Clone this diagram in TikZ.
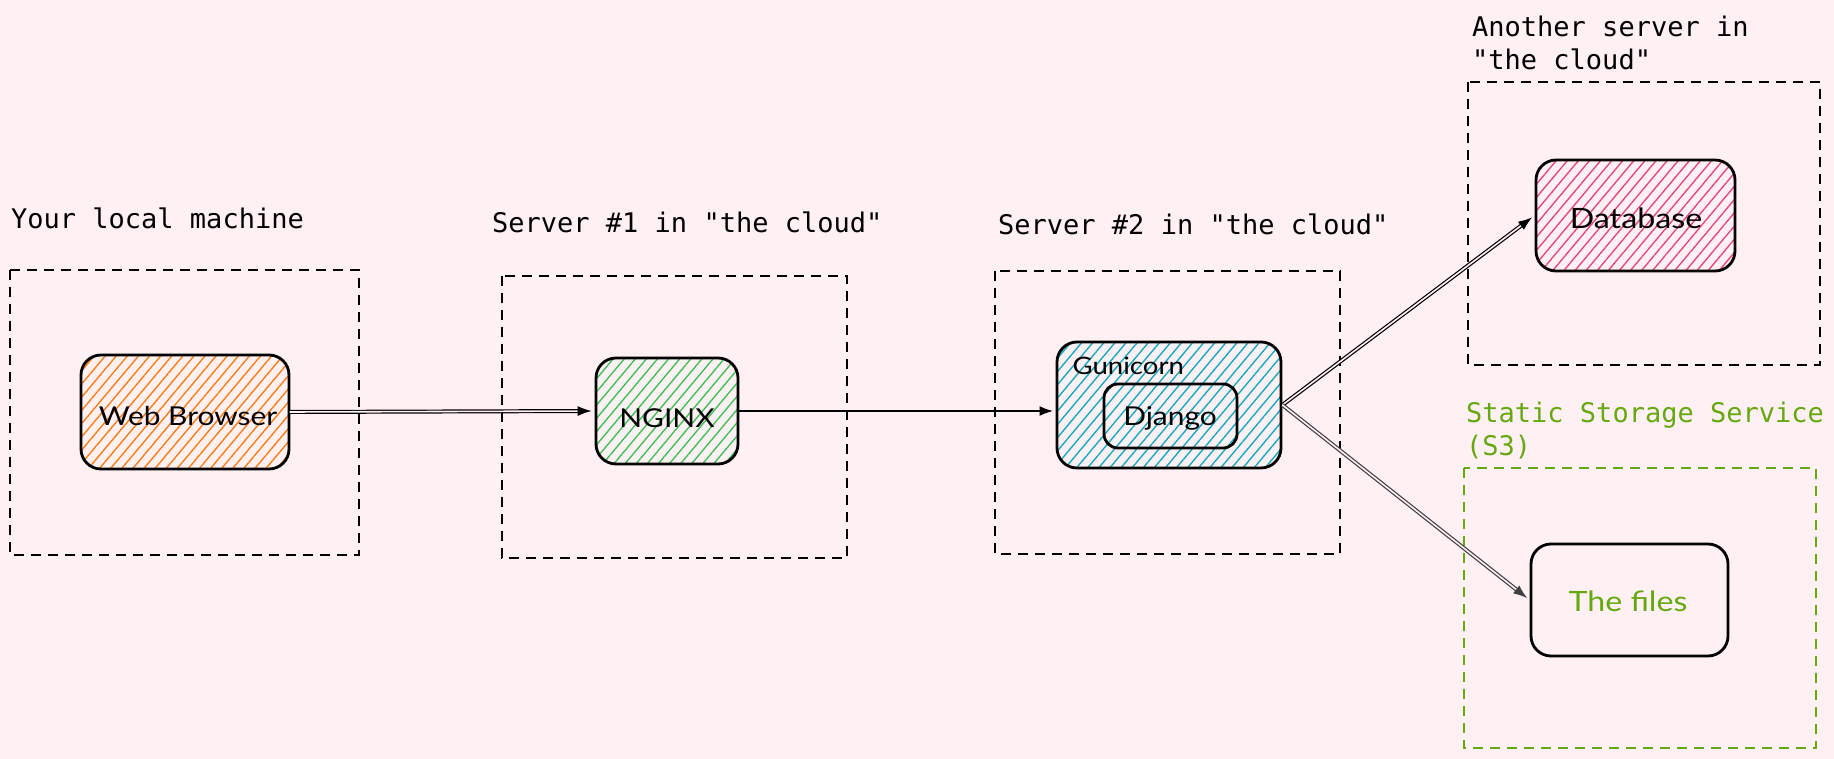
\documentclass[tikz,border=0pt]{standalone}
\usepackage{fontspec}
\newfontfamily\monofont{DejaVu Sans Mono}
\newfontfamily\handfont[FakeStretch=1.15]{Lato}
\usetikzlibrary{patterns.meta,arrows.meta}
\definecolor{bg}{RGB}{255,240,244}
\definecolor{xorange}{RGB}{253,126,20}
\definecolor{xgreen}{RGB}{64,192,87}
\definecolor{xblue}{RGB}{21,170,191}
\definecolor{xpink}{RGB}{230,73,128}
\definecolor{xolive}{RGB}{102,168,15}
\tikzset{
  container/.style={draw=black, line width=2.4pt, dash pattern=on 10pt off 7pt},
  grouplabel/.style={anchor=base west, inner sep=0pt, font=\monofont\fontsize{27}{32}\selectfont},
  comp/.style={draw=black, line width=2.8pt, rounded corners=20pt, inner sep=0pt},
  hatch/.style={pattern={Lines[angle=50,distance=8.5pt,line width=1.4pt]}, pattern color=#1},
  handtext/.style={font=\handfont\fontsize{26}{30}\selectfont},
  conn/.style={-{Latex[length=14pt,width=10pt]}, line width=2.6pt, shorten >=2pt},
  dconn/.style={-{Latex[length=14pt,width=10pt]}, double=bg, double distance=1.6pt, line width=1.2pt, shorten >=3pt},
}
\begin{document}
\begin{tikzpicture}[x=1pt,y=-1pt]
\useasboundingbox (0,0) rectangle (1834,759);
\fill[bg] (0,0) rectangle (1834,759);

% containers
\draw[container] (10,270) rectangle (359,555);
\draw[container] (502,276) rectangle (847,558);
\draw[container] (995,271) rectangle (1340,554);
\draw[container] (1468,82) rectangle (1820,365);
\draw[container, draw=xolive] (1464,468) rectangle (1816,748);

% group labels
\node[grouplabel] (l1) at (11,229) {Your local machine};
\node[grouplabel] (l2) at (492,233) {Server \#1 in "the cloud"};
\node[grouplabel] (l3) at (998,235) {Server \#2 in "the cloud"};
\node[grouplabel] (l4) at (1472,37) {Another server in};
\node[grouplabel] (l4b) at (1472,70) {"the cloud"};
\node[grouplabel, text=xolive] (l5) at (1466,422) {Static Storage Service};
\node[grouplabel, text=xolive] (l5b) at (1466,455) {(S3)};

% components
\node[comp, hatch=xorange, minimum width=208pt, minimum height=114pt] (wb) at (185,412) {};
\node[handtext] at (188,416) {Web Browser};
\node[comp, hatch=xgreen, minimum width=142pt, minimum height=106pt] (ng) at (667,411) {};
\node[handtext] at (667,418) {NGINX};
\node[comp, hatch=xblue, minimum width=224pt, minimum height=126pt] (gu) at (1169,405) {};
\node[handtext, anchor=base west, font=\handfont\fontsize{24}{28}\selectfont] (gl) at (1069,374) {Gunicorn};
\node[comp, minimum width=133pt, minimum height=64pt, rounded corners=14pt] (dj) at (1170.5,416) {};
\node[handtext] at (1170,418) {Django};
\node[comp, hatch=xpink, minimum width=199pt, minimum height=111pt] (db) at (1635.5,215.5) {};
\node[handtext, font=\handfont\fontsize{28}{32}\selectfont] at (1636,218) {Database};
\node[comp, minimum width=197pt, minimum height=112pt] (files) at (1629.5,600) {};
\node[handtext, text=xolive, font=\handfont\fontsize{28}{32}\selectfont] at (1628,601) {The files};

% connectors
\draw[dconn] (wb.east) -- (ng.west);
\draw[conn] (ng.east) -- (ng.east -| gu.west);
\draw[dconn] (gu.east) -- (db.west);
\draw[dconn, color=black!75] (gu.east) -- (files.west);
\end{tikzpicture}
\end{document}
